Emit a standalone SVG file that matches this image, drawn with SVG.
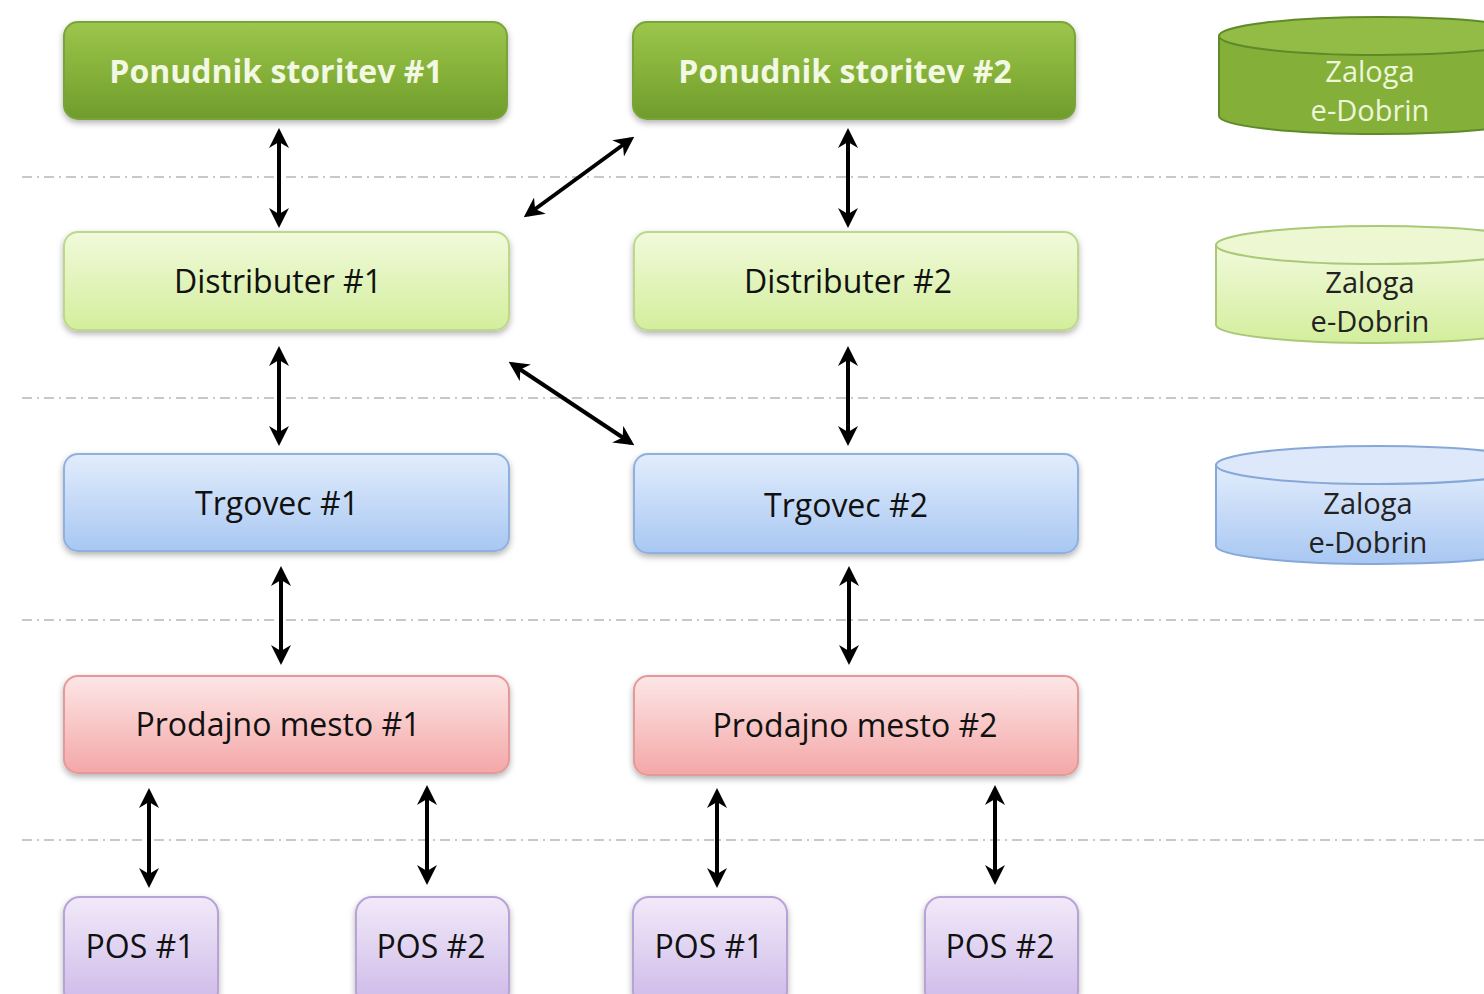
<svg xmlns="http://www.w3.org/2000/svg" width="1484" height="994" viewBox="0 0 1484 994">
<defs>
<linearGradient id="gDark" x1="0" y1="0" x2="0" y2="1"><stop offset="0" stop-color="#9CC64C"/><stop offset="0.5" stop-color="#86B23A"/><stop offset="1" stop-color="#6E9C2C"/></linearGradient>
<linearGradient id="gLight" x1="0" y1="0" x2="0" y2="1"><stop offset="0" stop-color="#F1FADB"/><stop offset="1" stop-color="#D3EE9C"/></linearGradient>
<linearGradient id="gBlue" x1="0" y1="0" x2="0" y2="1"><stop offset="0" stop-color="#E2EDFC"/><stop offset="1" stop-color="#A8C7F2"/></linearGradient>
<linearGradient id="gPink" x1="0" y1="0" x2="0" y2="1"><stop offset="0" stop-color="#FDE6E6"/><stop offset="1" stop-color="#F4A7A7"/></linearGradient>
<linearGradient id="gPurple" x1="0" y1="0" x2="0" y2="1"><stop offset="0" stop-color="#F1EAF9"/><stop offset="1" stop-color="#CDB8E8"/></linearGradient>
<filter id="sh" x="-5%" y="-10%" width="110%" height="130%"><feDropShadow dx="0" dy="3" stdDeviation="3" flood-color="#000" flood-opacity="0.3"/></filter>
<marker id="ah" viewBox="0 0 10 10" refX="8" refY="5" markerWidth="5" markerHeight="5" orient="auto-start-reverse" markerUnits="strokeWidth"><path d="M0,0 L10,5 L0,10 L3,5 Z" fill="#000"/></marker>
</defs>
<style>
.lbl{font-family:"Open Sans","Liberation Sans",sans-serif;font-size:32px;text-anchor:middle;dominant-baseline:central;fill:#111}
.wl{font-family:"Open Sans","Liberation Sans",sans-serif;font-size:32px;font-weight:bold;text-anchor:middle;dominant-baseline:central;fill:#F2F8E2}
.cl{font-family:"Open Sans","Liberation Sans",sans-serif;font-size:29px;text-anchor:middle;fill:#222}
.sep{stroke:#C8C8C8;stroke-width:2;stroke-dasharray:10 5 2 5;fill:none}
.arr{stroke:#000;stroke-width:4;fill:none;marker-start:url(#ah);marker-end:url(#ah)}
</style>
<rect width="1484" height="994" fill="#fff"/>
<g id="separators">
<line class="sep" x1="22" y1="177" x2="1484" y2="177"/>
<line class="sep" x1="22" y1="398" x2="1484" y2="398"/>
<line class="sep" x1="22" y1="620" x2="1484" y2="620"/>
<line class="sep" x1="22" y1="840" x2="1484" y2="840"/>
</g>
<g id="ponudnik1"><rect x="64" y="22" width="443" height="97" rx="14" fill="url(#gDark)" stroke="#7AA43A" stroke-width="2" filter="url(#sh)"/><text class="wl" x="276" y="70">Ponudnik storitev #1</text></g>
<g id="ponudnik2"><rect x="633" y="22" width="442" height="97" rx="14" fill="url(#gDark)" stroke="#7AA43A" stroke-width="2" filter="url(#sh)"/><text class="wl" x="845" y="70">Ponudnik storitev #2</text></g>
<g id="distributer1"><rect x="64" y="232" width="445" height="98" rx="14" fill="url(#gLight)" stroke="#BCD98A" stroke-width="2" filter="url(#sh)"/><text class="lbl" x="278" y="280">Distributer #1</text></g>
<g id="distributer2"><rect x="634" y="232" width="444" height="98" rx="14" fill="url(#gLight)" stroke="#BCD98A" stroke-width="2" filter="url(#sh)"/><text class="lbl" x="848" y="280">Distributer #2</text></g>
<g id="trgovec1"><rect x="64" y="454" width="445" height="97" rx="14" fill="url(#gBlue)" stroke="#8FB1E0" stroke-width="2" filter="url(#sh)"/><text class="lbl" x="277" y="502">Trgovec #1</text></g>
<g id="trgovec2"><rect x="634" y="454" width="444" height="99" rx="14" fill="url(#gBlue)" stroke="#8FB1E0" stroke-width="2" filter="url(#sh)"/><text class="lbl" x="846" y="504">Trgovec #2</text></g>
<g id="prodajno1"><rect x="64" y="676" width="445" height="97" rx="14" fill="url(#gPink)" stroke="#E49A9A" stroke-width="2" filter="url(#sh)"/><text class="lbl" x="278" y="723">Prodajno mesto #1</text></g>
<g id="prodajno2"><rect x="634" y="676" width="444" height="99" rx="14" fill="url(#gPink)" stroke="#E49A9A" stroke-width="2" filter="url(#sh)"/><text class="lbl" x="855" y="724">Prodajno mesto #2</text></g>
<g id="pos1a"><rect x="64" y="897" width="154" height="110" rx="16" fill="url(#gPurple)" stroke="#B8A3D6" stroke-width="2" filter="url(#sh)"/><text class="lbl" x="140" y="945">POS #1</text></g>
<g id="pos2a"><rect x="356" y="897" width="153" height="110" rx="16" fill="url(#gPurple)" stroke="#B8A3D6" stroke-width="2" filter="url(#sh)"/><text class="lbl" x="431" y="945">POS #2</text></g>
<g id="pos1b"><rect x="633" y="897" width="154" height="110" rx="16" fill="url(#gPurple)" stroke="#B8A3D6" stroke-width="2" filter="url(#sh)"/><text class="lbl" x="709" y="945">POS #1</text></g>
<g id="pos2b"><rect x="925" y="897" width="153" height="110" rx="16" fill="url(#gPurple)" stroke="#B8A3D6" stroke-width="2" filter="url(#sh)"/><text class="lbl" x="1000" y="945">POS #2</text></g>
<g id="zaloga1">
<path d="M1219,36 L1219,116 A160,18 0 0 0 1539,116 L1539,36 Z" fill="#84B03A" stroke="#5F8A28" stroke-width="2"/>
<ellipse cx="1379" cy="36" rx="160" ry="19" fill="#92BC46" stroke="#5F8A28" stroke-width="2"/>
<text class="cl" x="1370" y="82" style="fill:#EEF6D8">Zaloga</text>
<text class="cl" x="1370" y="121" style="fill:#EEF6D8">e-Dobrin</text>
</g>
<g id="zaloga2">
<path d="M1216,245 L1216,325 A162,18 0 0 0 1540,325 L1540,245 Z" fill="url(#gLight)" stroke="#A9C878" stroke-width="2"/>
<ellipse cx="1378" cy="245" rx="162" ry="19" fill="#EDF8D2" stroke="#A9C878" stroke-width="2"/>
<text class="cl" x="1370" y="293">Zaloga</text>
<text class="cl" x="1370" y="332">e-Dobrin</text>
</g>
<g id="zaloga3">
<path d="M1216,465 L1216,546 A162,18 0 0 0 1540,546 L1540,465 Z" fill="url(#gBlue)" stroke="#86A8D8" stroke-width="2"/>
<ellipse cx="1378" cy="465" rx="162" ry="19" fill="#DDE9FB" stroke="#86A8D8" stroke-width="2"/>
<text class="cl" x="1368" y="514">Zaloga</text>
<text class="cl" x="1368" y="553">e-Dobrin</text>
</g>
<g id="connectors">
<line class="arr" x1="279" y1="132" x2="279" y2="224"/>
<line class="arr" x1="848" y1="132" x2="848" y2="224"/>
<line class="arr" x1="527" y1="215" x2="631" y2="139"/>
<line class="arr" x1="279" y1="350" x2="279" y2="442"/>
<line class="arr" x1="848" y1="350" x2="848" y2="442"/>
<line class="arr" x1="512" y1="364" x2="631" y2="443"/>
<line class="arr" x1="281" y1="570" x2="281" y2="661"/>
<line class="arr" x1="849" y1="570" x2="849" y2="661"/>
<line class="arr" x1="149" y1="792" x2="149" y2="884"/>
<line class="arr" x1="427" y1="789" x2="427" y2="881"/>
<line class="arr" x1="717" y1="792" x2="717" y2="884"/>
<line class="arr" x1="995" y1="789" x2="995" y2="881"/>
</g>
</svg>
